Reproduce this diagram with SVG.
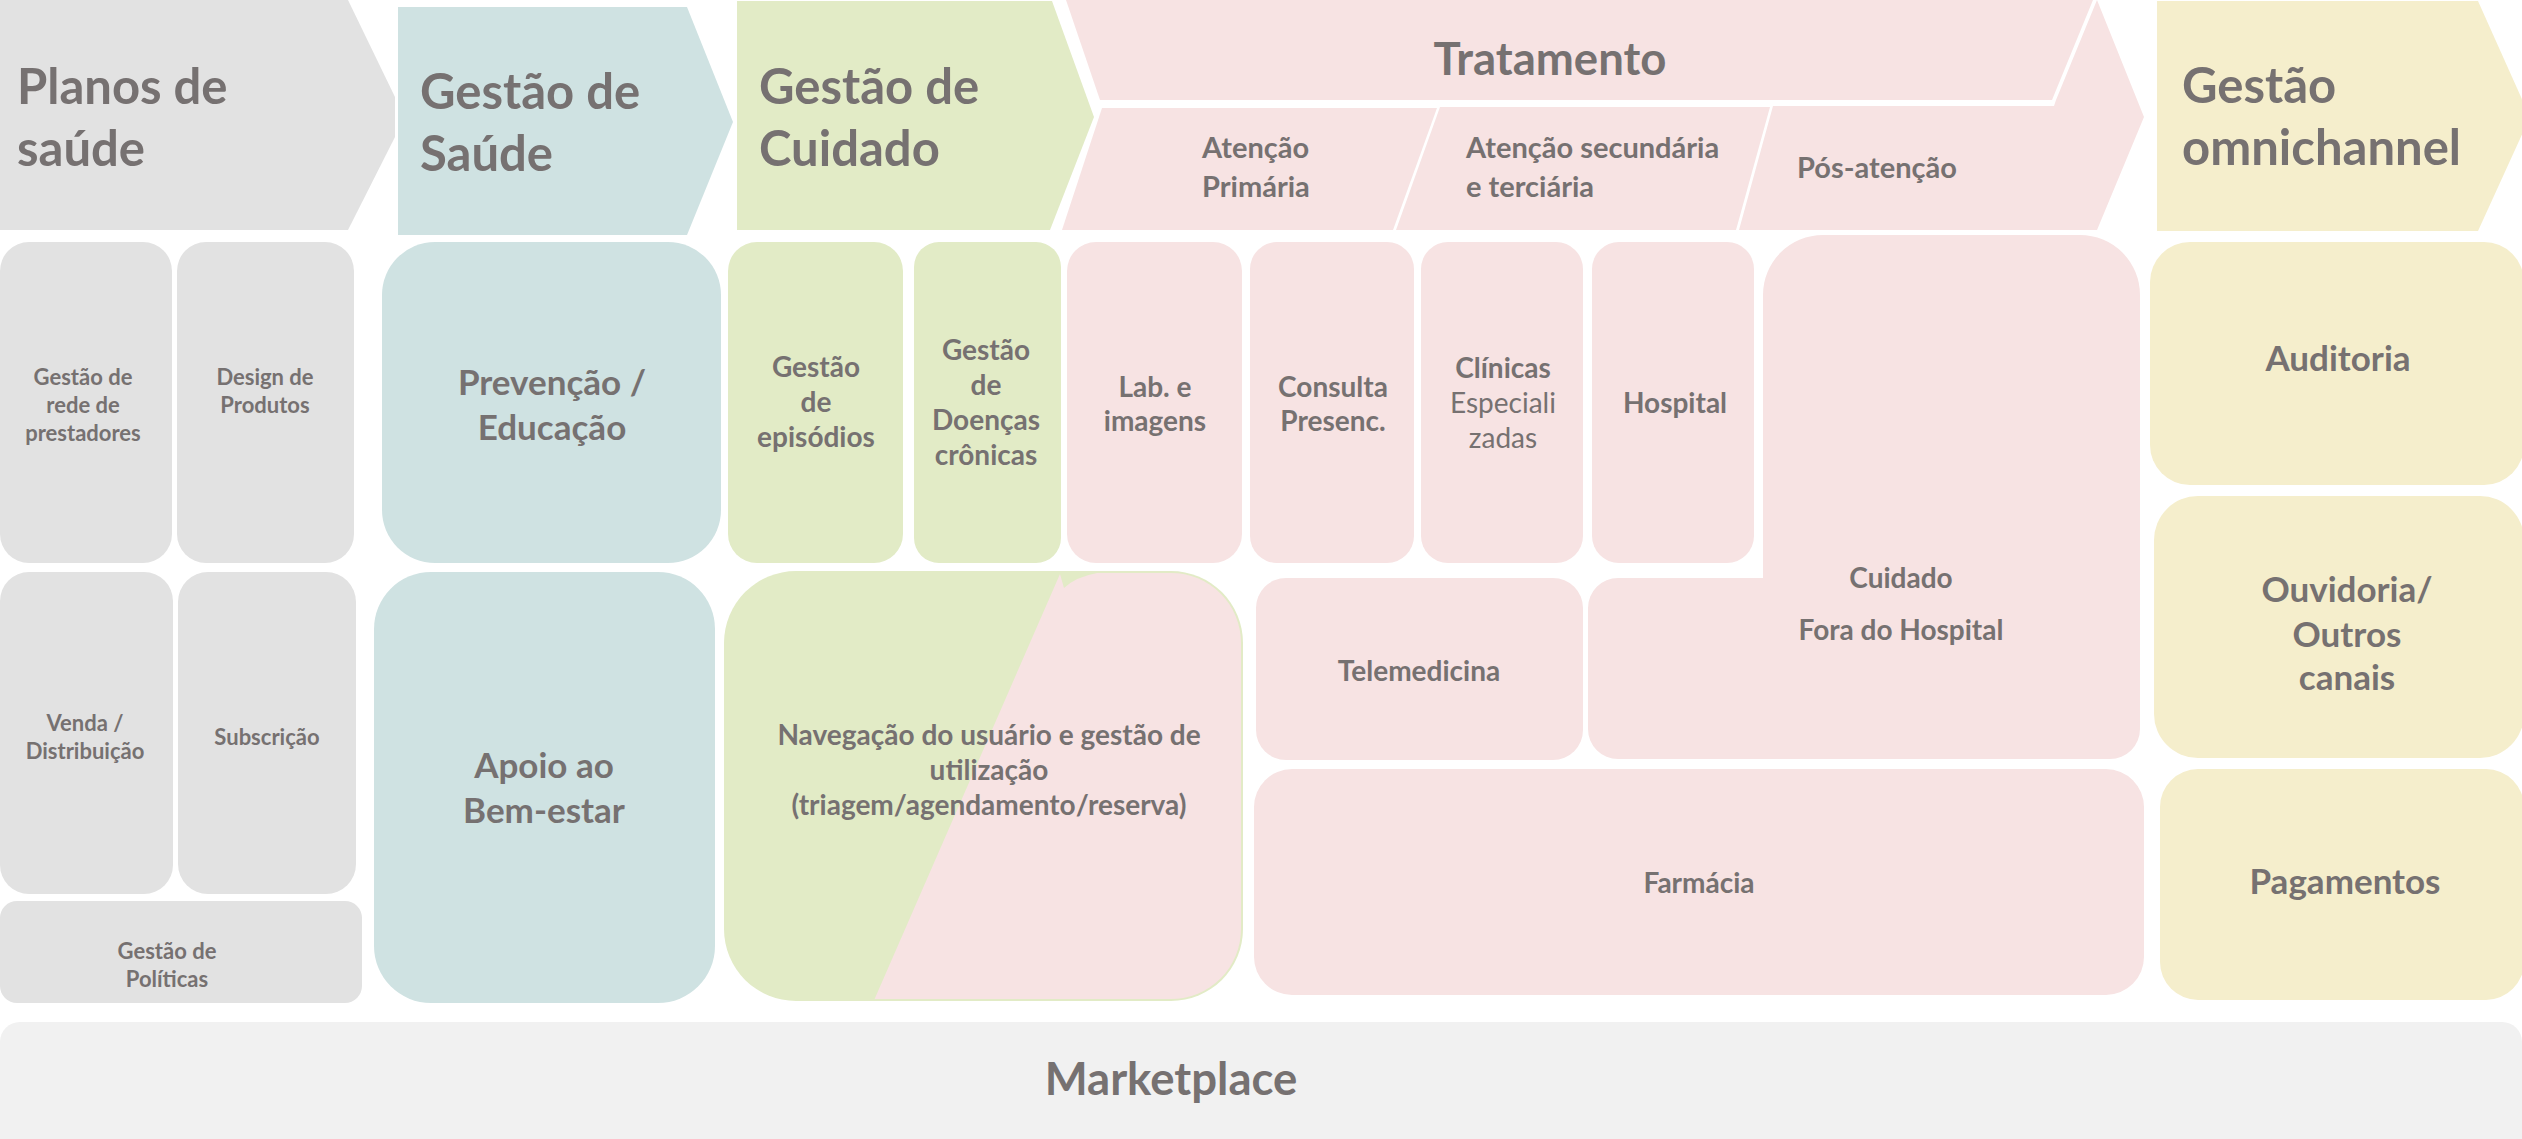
<svg xmlns="http://www.w3.org/2000/svg" width="2522" height="1139" viewBox="0 0 2522 1139">
<defs>
<style>
.gray{fill:#E2E2E2}
.teal{fill:#CFE2E2}
.green{fill:#E2EBC6}
.pink{fill:#F7E3E3}
.yellow{fill:#F5EECC}
.mkt{fill:#F1F1F1}
text{font-family:Lato,"Open Sans","Liberation Sans",sans-serif;font-weight:700;fill:#767171}
.c{text-anchor:middle}
.h{font-size:49px}
.hx{font-size:45.5px}
.m{font-size:35px}
.s{font-size:28px}
.a{font-size:29px}
.t{font-size:22px}
.r{font-weight:400}
</style>
<clipPath id="navClip"><rect x="726" y="573" width="515" height="426" rx="70"/></clipPath>
</defs>
<rect width="2522" height="1139" fill="#FFFFFF"/>

<g id="planos-de-saude">
<polygon class="gray" points="0,0 348,0 395,97 395,137 348,230 0,230"/>
<text class="h" x="17" y="104">Planos de</text>
<text class="h" x="17" y="166">saúde</text>
</g>
<g id="gestao-de-saude">
<polygon class="teal" points="398,7 687,7 733,122 687,235 398,235"/>
<text class="h" x="420" y="109">Gestão de</text>
<text class="h" x="420" y="171">Saúde</text>
</g>
<g id="gestao-de-cuidado">
<polygon class="green" points="737,1 1052,1 1094,117 1050,230 737,230"/>
<text class="h" x="759" y="104">Gestão de</text>
<text class="h" x="759" y="166">Cuidado</text>
</g>
<g id="tratamento">
<polygon class="pink" points="1066,0 2093,0 2052,100 1100,100"/>
<text class="hx c" x="1550" y="75">Tratamento</text>
</g>
<g id="atencao-primaria">
<polygon class="pink" points="1102,108 1437,108 1393,230 1062,230"/>
<text class="a" x="1202" y="158">Atenção</text>
<text class="a" x="1202" y="197">Primária</text>
</g>
<g id="atencao-secundaria">
<polygon class="pink" points="1440,107 1770,107 1736,230 1396,230"/>
<text class="a" x="1466" y="158">Atenção secundária</text>
<text class="a" x="1466" y="197">e terciária</text>
</g>
<g id="pos-atencao">
<polygon class="pink" points="2097,0 2144,117 2097,230 1739,230 1773,106 2054,106 2056,100"/>
<text class="a" x="1797" y="178">Pós-atenção</text>
</g>
<g id="gestao-omnichannel">
<polygon class="yellow" points="2157,1 2478,1 2530,117 2478,231 2157,231"/>
<text class="h" x="2182" y="103">Gestão</text>
<text class="h" x="2182" y="165">omnichannel</text>
</g>

<g id="gestao-rede-prestadores">
<rect class="gray" x="0" y="242" width="172" height="321" rx="29"/>
<text class="t c" x="83" y="385">Gestão de</text>
<text class="t c" x="83" y="413">rede de</text>
<text class="t c" x="83" y="441">prestadores</text>
</g>
<g id="design-produtos">
<rect class="gray" x="177" y="242" width="177" height="321" rx="29"/>
<text class="t c" x="265" y="385">Design de</text>
<text class="t c" x="265" y="413">Produtos</text>
</g>
<g id="prevencao-educacao">
<rect class="teal" x="382" y="242" width="339" height="321" rx="53"/>
<text class="m c" x="552" y="395">Prevenção /</text>
<text class="m c" x="552" y="440">Educação</text>
</g>
<g id="gestao-episodios">
<rect class="green" x="728" y="242" width="175" height="321" rx="29"/>
<text class="s c" x="816" y="377">Gestão</text>
<text class="s c" x="816" y="412">de</text>
<text class="s c" x="816" y="447">episódios</text>
</g>
<g id="gestao-doencas-cronicas">
<rect class="green" x="914" y="242" width="147" height="321" rx="25"/>
<text class="s c" x="986" y="360">Gestão</text>
<text class="s c" x="986" y="395">de</text>
<text class="s c" x="986" y="430">Doenças</text>
<text class="s c" x="986" y="465">crônicas</text>
</g>
<g id="lab-imagens">
<rect class="pink" x="1067" y="242" width="175" height="321" rx="29"/>
<text class="s c" x="1155" y="397">Lab. e</text>
<text class="s c" x="1155" y="431">imagens</text>
</g>
<g id="consulta-presencial">
<rect class="pink" x="1250" y="242" width="164" height="321" rx="27"/>
<text class="s c" x="1333" y="397">Consulta</text>
<text class="s c" x="1333" y="431">Presenc.</text>
</g>
<g id="clinicas-especializadas">
<rect class="pink" x="1421" y="242" width="162" height="321" rx="27"/>
<text class="s c" x="1503" y="378">Clínicas</text>
<text class="s c r" x="1503" y="413">Especiali</text>
<text class="s c r" x="1503" y="448">zadas</text>
</g>
<g id="hospital">
<rect class="pink" x="1592" y="242" width="162" height="321" rx="27"/>
<text class="s c" x="1675" y="413">Hospital</text>
</g>
<g id="cuidado-fora-hospital">
<path class="pink" d="M1823,235 L2080,235 A60,60 0 0 1 2140,295 L2140,729 A30,30 0 0 1 2110,759 L1618,759 A30,30 0 0 1 1588,729 L1588,608 A30,30 0 0 1 1618,578 L1763,578 L1763,295 A60,60 0 0 1 1823,235 Z"/>
<text class="s c" x="1901" y="588">Cuidado</text>
<text class="s c" x="1901" y="640">Fora do Hospital</text>
</g>
<g id="auditoria">
<rect class="yellow" x="2150" y="242" width="374" height="243" rx="40"/>
<text class="m c" x="2338" y="371">Auditoria</text>
</g>
<g id="ouvidoria">
<rect class="yellow" x="2154" y="496" width="370" height="262" rx="44"/>
<text class="m c" x="2347" y="602">Ouvidoria/</text>
<text class="m c" x="2347" y="647">Outros</text>
<text class="m c" x="2347" y="690">canais</text>
</g>
<g id="pagamentos">
<rect class="yellow" x="2160" y="769" width="364" height="231" rx="38"/>
<text class="m c" x="2345" y="894">Pagamentos</text>
</g>

<g id="venda-distribuicao">
<rect class="gray" x="0" y="572" width="173" height="322" rx="29"/>
<text class="t c" x="85" y="731">Venda /</text>
<text class="t c" x="85" y="759">Distribuição</text>
</g>
<g id="subscricao">
<rect class="gray" x="178" y="572" width="178" height="322" rx="30"/>
<text class="t c" x="267" y="745">Subscrição</text>
</g>
<g id="gestao-politicas">
<rect class="gray" x="0" y="901" width="362" height="102" rx="17"/>
<text class="t c" x="167" y="959">Gestão de</text>
<text class="t c" x="167" y="987">Políticas</text>
</g>
<g id="apoio-bem-estar">
<rect class="teal" x="374" y="572" width="341" height="431" rx="57"/>
<text class="m c" x="544" y="778">Apoio ao</text>
<text class="m c" x="544" y="823">Bem-estar</text>
</g>
<g id="navegacao-usuario">
<rect class="green" x="724" y="571" width="519" height="430" rx="72"/>
<path class="pink" clip-path="url(#navClip)" d="M872,1005 L1060,574 L1064,588 Q1082,571 1122,571 L1250,571 L1250,1005 Z"/>
<text class="s c" x="989" y="745">Navegação do usuário e gestão de</text>
<text class="s c" x="989" y="780">utilização</text>
<text class="s c" x="989" y="815">(triagem/agendamento/reserva)</text>
</g>
<g id="telemedicina">
<rect class="pink" x="1256" y="578" width="327" height="182" rx="30"/>
<text class="s c" x="1419" y="681">Telemedicina</text>
</g>
<g id="farmacia">
<rect class="pink" x="1254" y="769" width="890" height="226" rx="38"/>
<text class="s c" x="1699" y="893">Farmácia</text>
</g>
<g id="marketplace">
<rect class="mkt" x="0" y="1022" width="2522" height="140" rx="20"/>
<text class="hx c" x="1171" y="1095">Marketplace</text>
</g>
<g id="connectors"></g>
</svg>
